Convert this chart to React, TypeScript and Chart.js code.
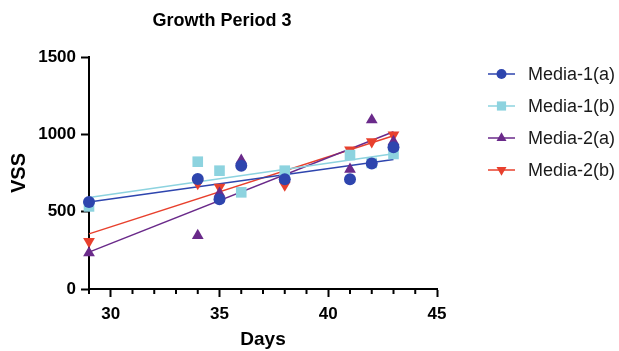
import React, { useEffect, useRef } from "react";
import { Chart, registerables } from "chart.js";
import { drawPoint } from "chart.js/helpers";

Chart.register(...registerables);

const titleText = "Growth Period 3";
const xTitle = "Days";
const yTitle = "VSS";

const seriesLabels = ["Media-1(a)", "Media-1(b)", "Media-2(a)", "Media-2(b)"];
const seriesColors = ["#2E45AE", "#8DD3DF", "#6A2A8A", "#E8402D"];
const seriesStyles = ["circle", "rect", "triangle", "triangle"];
const seriesRotations = [0, 0, 0, 180];

const days1a = [29, 34, 35, 36, 38, 41, 42, 43];
const vss1a = [562, 711, 580, 797, 709, 709, 812, 916];
const days1b = [29, 34, 35, 36, 38, 41, 42, 43];
const vss1b = [534, 823, 765, 625, 765, 866, 815, 873];
const days2a = [29, 34, 35, 36, 38, 41, 42, 43];
const vss2a = [233, 345, 619, 832, 728, 774, 1093, 953];
const days2b = [29, 34, 35, 38, 41, 42, 43];
const vss2b = [308, 683, 658, 672, 899, 953, 996];

const xTicks = [30, 35, 40, 45];
const yTicks = [0, 500, 1000, 1500];

const allDays = [days1a, days1b, days2a, days2b];
const allVss = [vss1a, vss1b, vss2a, vss2b];

function fit(xs: number[], ys: number[]) {
  const n = xs.length;
  const mx = xs.reduce((a, b) => a + b, 0) / n;
  const my = ys.reduce((a, b) => a + b, 0) / n;
  let sxy = 0;
  let sxx = 0;
  for (let i = 0; i < n; i++) {
    sxy += (xs[i] - mx) * (ys[i] - my);
    sxx += (xs[i] - mx) * (xs[i] - mx);
  }
  const slope = sxy / sxx;
  const x0 = Math.min(...xs);
  const x1 = Math.max(...xs);
  return [
    { x: x0, y: my + slope * (x0 - mx) },
    { x: x1, y: my + slope * (x1 - mx) },
  ];
}

const markerRadius = [6, 7.5, 6.8, 6.8];

export default function App() {
  const ref = useRef<HTMLCanvasElement | null>(null);

  useEffect(() => {
    document.body.style.margin = "0";
    const canvas = ref.current;
    if (!canvas) return;

    const scatterSets = seriesLabels.map((label, i) => ({
      type: "scatter" as const,
      label,
      data: allDays[i].map((d, j) => ({ x: d, y: allVss[i][j] })),
      backgroundColor: seriesColors[i],
      borderColor: seriesColors[i],
      pointStyle: seriesStyles[i],
      rotation: seriesRotations[i],
      pointRadius: markerRadius[i],
      borderWidth: 0,
      clip: false,
      order: 1,
    }));

    const fitSets = seriesLabels.map((label, i) => ({
      type: "line" as const,
      label: label + " fit",
      data: fit(allDays[i], allVss[i]),
      borderColor: seriesColors[i],
      borderWidth: 1.5,
      pointRadius: 0,
      fill: false,
      clip: false,
      order: 2,
    }));

    const titlePlugin = {
      id: "customTitle",
      afterDraw(chart: any) {
        const c = chart.ctx;
        c.save();
        c.font = "bold 18px 'Liberation Sans', Arial, sans-serif";
        c.fillStyle = "#000";
        c.textAlign = "center";
        c.textBaseline = "middle";
        c.fillText(titleText, 222, 21);
        c.restore();
      },
    };

    const minorTicksPlugin = {
      id: "minorTicks",
      afterDraw(chart: any) {
        const xs = chart.scales.x;
        const c = chart.ctx;
        const y0 = chart.chartArea.bottom;
        c.save();
        c.strokeStyle = "#000";
        c.lineWidth = 2;
        for (let v = xs.min; v <= xs.max; v++) {
          if (xTicks.includes(v)) continue;
          const px = xs.getPixelForValue(v);
          c.beginPath();
          c.moveTo(px, y0);
          c.lineTo(px, y0 + 5);
          c.stroke();
        }
        c.restore();
      },
    };

    const legendPlugin = {
      id: "customLegend",
      afterDraw(chart: any) {
        const c = chart.ctx;
        c.save();
        seriesLabels.forEach((label, i) => {
          const y = 74 + i * 32;
          c.strokeStyle = seriesColors[i];
          c.fillStyle = seriesColors[i];
          c.lineWidth = 1.5;
          c.beginPath();
          c.moveTo(488, y);
          c.lineTo(515, y);
          c.stroke();
          drawPoint(
            c,
            {
              pointStyle: seriesStyles[i],
              radius: markerRadius[i] - 1,
              rotation: seriesRotations[i],
              borderWidth: 0,
            } as any,
            501.5,
            y
          );
          c.fillStyle = "#1a1a1a";
          c.font = "18px 'Liberation Sans', Arial, sans-serif";
          c.textAlign = "left";
          c.textBaseline = "middle";
          c.fillText(label, 528, y + 1);
        });
        c.restore();
      },
    };

    const chart = new Chart(canvas, {
      type: "scatter",
      data: { datasets: [...scatterSets, ...fitSets] as any },
      options: {
        animation: false,
        responsive: false,
        layout: { padding: { top: 57, right: 182, left: 0, bottom: 0 } },
        plugins: {
          legend: { display: false },
          title: { display: false },
          tooltip: { enabled: false },
        },
        scales: {
          x: {
            type: "linear",
            min: 29,
            max: 45,
            afterFit(scale: any) {
              scale.height = 62;
            },
            afterBuildTicks(scale: any) {
              scale.ticks = xTicks.map((v) => ({ value: v }));
            },
            ticks: {
              color: "#000",
              font: { family: "'Liberation Sans', Arial, sans-serif", size: 17, weight: "bold" },
              padding: 7,
              maxRotation: 0,
              autoSkip: false,
              callback: (v: any) => String(v),
            },
            grid: {
              display: true,
              drawOnChartArea: false,
              drawTicks: true,
              tickLength: 8,
              tickWidth: 2,
              tickColor: "#000",
            },
            border: { display: true, color: "#000", width: 2 },
            title: {
              display: true,
              text: xTitle,
              color: "#000",
              font: { family: "'Liberation Sans', Arial, sans-serif", size: 19, weight: "bold" },
              padding: { top: 0, bottom: 0 },
            },
          },
          y: {
            type: "linear",
            min: 0,
            max: 1500,
            afterFit(scale: any) {
              scale.width = 89;
            },
            afterBuildTicks(scale: any) {
              scale.ticks = yTicks.map((v) => ({ value: v }));
            },
            ticks: {
              color: "#000",
              font: { family: "'Liberation Sans', Arial, sans-serif", size: 17, weight: "bold" },
              padding: 5,
              callback: (v: any) => String(v),
            },
            grid: {
              display: true,
              drawOnChartArea: false,
              drawTicks: true,
              tickLength: 8,
              tickWidth: 2,
              tickColor: "#000",
            },
            border: { display: true, color: "#000", width: 2 },
            title: {
              display: true,
              text: yTitle,
              color: "#000",
              font: { family: "'Liberation Sans', Arial, sans-serif", size: 20, weight: "bold" },
              padding: { top: 7, bottom: 0 },
            },
          },
        },
      },
      plugins: [titlePlugin, minorTicksPlugin, legendPlugin],
    });

    return () => chart.destroy();
  }, []);

  return (
    <div style={{ width: 619, height: 351, background: "#fff" }}>
      <canvas ref={ref} width={619} height={351} style={{ display: "block" }} />
    </div>
  );
}
